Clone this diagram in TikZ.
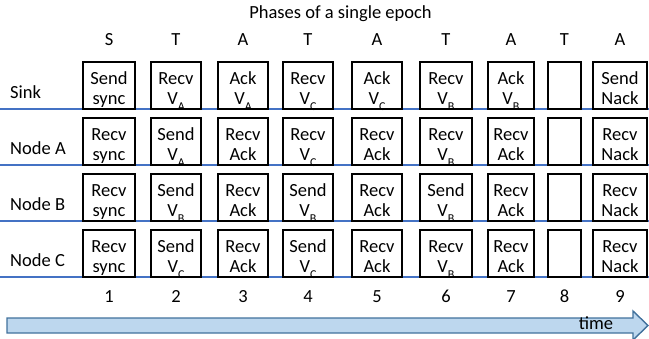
\documentclass[tikz,border=0pt]{standalone}
\usepackage{fontspec}
\setmainfont{Carlito}
\definecolor{laneblue}{RGB}{68,114,196}
\definecolor{arrowfill}{RGB}{189,215,238}
\definecolor{arrowdraw}{RGB}{65,113,156}
\newcommand\mysub[1]{\raisebox{-5.5pt}{\fontsize{12}{12}\selectfont #1}}
\newcommand\mycell[6]{%
  \node[cell, minimum width=#4pt] (#1) at (#2,#3-23.5) {};
  \node[ctext] (#1a) at (#2,#3-25) {#5};
  \node[ctext] (#1b) at (#2,#3-4.5) {#6};}
\begin{document}
\begin{tikzpicture}[x=1pt,y=-1pt,
  every node/.style={font=\fontsize{18.5}{22}\selectfont, text=black},
  cell/.style={draw=black, line width=1.4pt, fill=white, inner sep=0pt, minimum height=47pt},
  ctext/.style={anchor=base, inner sep=0pt},
  lane/.style={draw=laneblue, line width=1.3pt},
  rowlabel/.style={anchor=base west, inner sep=0pt},
  head/.style={anchor=base, inner sep=0pt},
  timearrow/.style={fill=arrowfill, draw=arrowdraw, line width=1.4pt, line join=miter}]
\useasboundingbox (0,0) rectangle (649,338);

% title and phase letters
\node[head] (title) at (340.5,18) {Phases of a single epoch};
\foreach \x/\l [count=\i] in {109/S,176/T,243/A,308/T,377/A,446/T,511/A,564.5/T,620/A}
  \node[head] (ph\i) at (\x,45) {\l};

% lanes
\foreach \y [count=\r] in {109,165,221,277} {
  \coordinate (lw\r) at (0,\y);
  \coordinate (le\r) at (649,\y);
  \draw[lane] (lw\r) -- (le\r);
}

% row labels
\node[rowlabel] (sink) at (10,98.5) {Sink};
\node[rowlabel] (nodeA) at (10,154.5) {Node A};
\node[rowlabel] (nodeB) at (10,210.5) {Node B};
\node[rowlabel] (nodeC) at (10,266.5) {Node C};

% Sink
\mycell{s1}{109}{109}{52}{Send}{sync}
\mycell{s2}{176}{109}{50}{Recv}{V\mysub{A}}
\mycell{s3}{243}{109}{50}{Ack}{V\mysub{A}}
\mycell{s4}{308}{109}{50}{Recv}{V\mysub{C}}
\mycell{s5}{377}{109}{50}{Ack}{V\mysub{C}}
\mycell{s6}{446}{109}{52}{Recv}{V\mysub{B}}
\mycell{s7}{511}{109}{46}{Ack}{V\mysub{B}}
\node[cell, minimum width=33pt] (s8) at (564.5,109-23.5) {};
\mycell{s9}{620}{109}{54}{Send}{Nack}

% Node A
\mycell{a1}{109}{165}{52}{Recv}{sync}
\mycell{a2}{176}{165}{50}{Send}{V\mysub{A}}
\mycell{a3}{243}{165}{50}{Recv}{Ack}
\mycell{a4}{308}{165}{50}{Recv}{V\mysub{C}}
\mycell{a5}{377}{165}{50}{Recv}{Ack}
\mycell{a6}{446}{165}{52}{Recv}{V\mysub{B}}
\mycell{a7}{511}{165}{46}{Recv}{Ack}
\node[cell, minimum width=33pt] (a8) at (564.5,165-23.5) {};
\mycell{a9}{620}{165}{54}{Recv}{Nack}

% Node B
\mycell{b1}{109}{221}{52}{Recv}{sync}
\mycell{b2}{176}{221}{50}{Send}{V\mysub{B}}
\mycell{b3}{243}{221}{50}{Recv}{Ack}
\mycell{b4}{308}{221}{50}{Send}{V\mysub{B}}
\mycell{b5}{377}{221}{50}{Recv}{Ack}
\mycell{b6}{446}{221}{52}{Send}{V\mysub{B}}
\mycell{b7}{511}{221}{46}{Recv}{Ack}
\node[cell, minimum width=33pt] (b8) at (564.5,221-23.5) {};
\mycell{b9}{620}{221}{54}{Recv}{Nack}

% Node C
\mycell{c1}{109}{277}{52}{Recv}{sync}
\mycell{c2}{176}{277}{50}{Send}{V\mysub{C}}
\mycell{c3}{243}{277}{50}{Recv}{Ack}
\mycell{c4}{308}{277}{50}{Send}{V\mysub{C}}
\mycell{c5}{377}{277}{50}{Recv}{Ack}
\mycell{c6}{446}{277}{52}{Recv}{V\mysub{B}}
\mycell{c7}{511}{277}{46}{Recv}{Ack}
\node[cell, minimum width=33pt] (c8) at (564.5,277-23.5) {};
\mycell{c9}{620}{277}{54}{Recv}{Nack}

% step numbers
\foreach \x [count=\i] in {109,176,243,308,377,446,511,564.5,620}
  \node[head] (n\i) at (\x,302) {\i};

% time arrow
\draw[timearrow] (7,318) -- (633,318) -- (633,311) -- (648,325.5) -- (633,340) -- (633,333) -- (7,333) -- cycle;
\node[head] (time) at (596,329) {time};
\end{tikzpicture}
\end{document}
